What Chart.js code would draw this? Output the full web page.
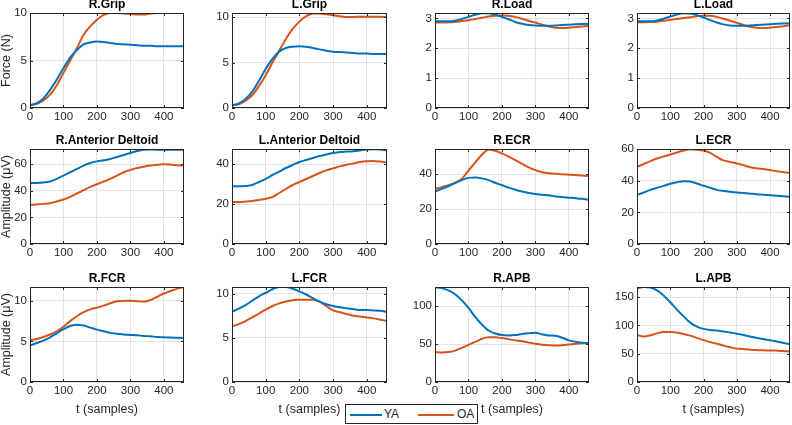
<!DOCTYPE html>
<html>
<head>
<meta charset="utf-8">
<script src="https://cdn.jsdelivr.net/npm/chart.js@4.4.0/dist/chart.umd.min.js"></script>
<style>
  body { margin: 0; background: #fff; width: 792px; height: 425px; overflow: hidden; position: relative; font-family: "Liberation Sans", Arial, sans-serif; }
  canvas { position: absolute; }
  #legend { position: absolute; left: 345px; top: 404px; width: 133px; height: 20px; border: 1px solid #262626; box-sizing: border-box; background: #fff; font-size: 12px; color: #262626; }
  #legend span { position: absolute; top: 2px; }
  #legend i { position: absolute; top: 9px; height: 2px; display: block; }
</style>
</head>
<body>
<div id="legend">
  <i style="left:4px;width:32px;background:#0072BD"></i><span style="left:38px">YA</span>
  <i style="left:72px;width:36px;background:#D95319"></i><span style="left:111px">OA</span>
</div>
<script>
// time axis (samples)
const t = [0,20,40,60,80,100,120,140,160,180,200,220,240,260,280,300,320,340,360,380,400,420,440,460];

const rGripYA = [0.3,0.5,1.0,1.9,3.0,4.2,5.3,6.1,6.7,6.9,7.0,6.95,6.85,6.75,6.7,6.65,6.6,6.55,6.55,6.5,6.5,6.5,6.5,6.5];
const rGripOA = [0.3,0.45,0.8,1.4,2.4,3.7,5.0,6.3,7.7,8.6,9.3,9.8,10.0,10.0,9.95,9.9,9.85,9.85,9.95,10.0,10.0,10.0,10.0,10.0];
const lGripYA = [0.3,0.5,1.0,1.8,3.0,4.3,5.4,6.2,6.6,6.75,6.8,6.75,6.6,6.45,6.3,6.2,6.15,6.1,6.05,6.0,6.0,5.95,5.95,5.95];
const lGripOA = [0.3,0.4,0.8,1.4,2.4,3.6,5.0,6.3,7.6,8.7,9.5,10.1,10.4,10.4,10.3,10.2,10.1,10.0,10.0,10.05,10.05,10.05,10.05,10.0];
const rLoadYA = [2.9,2.9,2.9,2.92,2.98,3.05,3.12,3.17,3.17,3.12,3.05,2.97,2.88,2.82,2.78,2.76,2.75,2.75,2.76,2.78,2.79,2.8,2.81,2.82];
const rLoadOA = [2.86,2.86,2.87,2.88,2.91,2.94,2.98,3.02,3.06,3.09,3.1,3.09,3.05,2.99,2.92,2.86,2.79,2.73,2.69,2.68,2.69,2.71,2.73,2.75];
const lLoadYA = [2.9,2.9,2.9,2.93,2.99,3.06,3.13,3.17,3.16,3.11,3.03,2.94,2.86,2.8,2.76,2.75,2.75,2.76,2.78,2.79,2.8,2.82,2.83,2.84];
const lLoadOA = [2.87,2.87,2.88,2.89,2.92,2.95,2.98,3.01,3.04,3.07,3.09,3.09,3.05,2.99,2.92,2.85,2.78,2.72,2.69,2.68,2.69,2.71,2.74,2.77];
const rDeltYA = [46,46,46.2,47,49,51.5,54,56.5,59,61,62.2,63,64,65.5,67,68.5,70,71,71.2,71,71,71,71,71];
const rDeltOA = [29.5,29.8,30.2,30.7,32,33.5,35.5,38,40.5,43,45,47,49,51.5,54,55.8,57.2,58.2,59,59.7,60,59.8,59.3,59];
const lDeltYA = [28.8,28.9,29,29.5,31,32.6,34.5,36.2,38,39.5,41,42,43,44,44.8,45.5,46,46.2,46.4,46.8,47.2,47.4,47.2,46.8];
const lDeltOA = [21,21,21.2,21.5,22,22.6,23.5,25.5,27.5,29.5,31,32.5,34,35.5,36.8,37.8,38.8,39.6,40.3,41,41.4,41.5,41.2,40.8];
const rEcrYA = [30,31.5,33,34.8,36.5,37.8,38,37.5,36.5,35,33.6,32.2,31,30,29.2,28.6,28.2,27.8,27.2,26.8,26.5,26.2,25.8,25.2];
const rEcrOA = [31.5,32.5,33.6,35,37.2,42,46.5,51,53.8,53.3,51.8,50,48,45.8,43.8,42.2,41,40.4,40.2,39.8,39.6,39.4,39.2,38.8];
const lEcrYA = [31,32.5,34.2,35.5,36.7,38,39,39.7,39.5,38.2,36.8,35.5,34.2,33.5,33,32.6,32.2,31.8,31.4,31.1,30.8,30.5,30.2,29.9];
const lEcrOA = [48.7,50.5,52.3,54,55.3,56.5,57.8,59,59.8,59.6,59,57.5,55,52.8,51.8,50.8,49.7,48.5,47.8,47.3,46.7,46,45.4,44.8];
const rFcrYA = [4.5,4.8,5.1,5.5,6.0,6.5,6.9,7.05,6.95,6.7,6.45,6.25,6.05,5.95,5.85,5.8,5.75,5.68,5.62,5.55,5.5,5.48,5.45,5.42];
const rFcrOA = [5.15,5.3,5.55,5.85,6.25,6.8,7.5,8.1,8.6,8.95,9.15,9.4,9.7,9.95,10,10,9.95,9.9,10.1,10.5,10.9,11.2,11.5,11.7];
const lFcrYA = [7.95,8.3,8.7,9.2,9.7,10.1,10.5,10.75,10.75,10.55,10.25,9.9,9.5,9.1,8.8,8.6,8.45,8.35,8.25,8.15,8.15,8.1,8.05,7.95];
const lFcrOA = [6.3,6.55,6.9,7.3,7.75,8.2,8.6,8.9,9.1,9.25,9.3,9.32,9.3,9.1,8.6,8.1,7.9,7.7,7.5,7.4,7.3,7.2,7.05,6.9];
const rApbYA = [125,124,121,116,108,98,86,76,68,64,62,61.5,62,63.5,64.5,65,63,61.5,61,58.5,55,53,52,51.5];
const rApbOA = [39.5,39,39.5,41.5,45,49,53,57,59,59,58,56.5,55,53.8,52,50.5,49.3,48.5,48.2,48.5,49.5,50.5,51.2,51.5];
const lApbYA = [166,168,167,162,153,141,128,116,105,98,94,92,91,89.5,87.5,85.5,83,80.5,78,76,74,71.5,69,67];
const lApbOA = [83,80.5,82.5,86,88.5,88.5,87.5,85,82,78,74,70.5,67.5,64.5,61.5,59,58.5,57,56.5,56,55.8,55.5,55,54];

const panels = [
  ['R.Grip', rGripYA, rGripOA, 10, 5, 'Force (N)'],
  ['L.Grip', lGripYA, lGripOA, 10.45, 5],
  ['R.Load', rLoadYA, rLoadOA, 3.18, 1],
  ['L.Load', lLoadYA, lLoadOA, 3.18, 1],
  ['R.Anterior Deltoid', rDeltYA, rDeltOA, 71.5, 20, 'Amplitude (\u03bcV)'],
  ['L.Anterior Deltoid', lDeltYA, lDeltOA, 47.5, 20],
  ['R.ECR', rEcrYA, rEcrOA, 54.3, 20],
  ['L.ECR', lEcrYA, lEcrOA, 60, 20],
  ['R.FCR', rFcrYA, rFcrOA, 11.7, 5, 'Amplitude (\u03bcV)'],
  ['L.FCR', lFcrYA, lFcrOA, 10.75, 5],
  ['R.APB', rApbYA, rApbOA, 125.5, 50],
  ['L.APB', lApbYA, lApbOA, 168, 50]
];

const colLeft = [30, 232, 435, 637];
const colW = [154, 155, 154, 153];
const rowTop = [14, 150, 288];
const plotH = 94;
const font = "'Liberation Sans', Arial, sans-serif";
const ink = '#262626';

const boxPlugin = {
  id: 'box',
  afterDatasetsDraw(chart) {
    const { ctx, chartArea: a, scales } = chart;
    ctx.save();
    ctx.strokeStyle = ink;
    ctx.lineWidth = 1;
    ctx.strokeRect(Math.round(a.left) + 0.5, Math.round(a.top) + 0.5, Math.round(a.right - a.left) - 1, Math.round(a.bottom - a.top) - 1);
    ctx.beginPath();
    scales.x.ticks.forEach(tk => {
      const px = Math.round(scales.x.getPixelForValue(tk.value)) + 0.5;
      ctx.moveTo(px, a.bottom); ctx.lineTo(px, a.bottom - 3);
      ctx.moveTo(px, a.top); ctx.lineTo(px, a.top + 3);
    });
    scales.y.ticks.forEach(tk => {
      const py = Math.round(scales.y.getPixelForValue(tk.value)) + 0.5;
      ctx.moveTo(a.left, py); ctx.lineTo(a.left + 3, py);
      ctx.moveTo(a.right, py); ctx.lineTo(a.right - 3, py);
    });
    ctx.stroke();
    ctx.restore();
  }
};

function keepSteps(step) {
  return scale => {
    scale.ticks = scale.ticks.filter(tk => Math.abs(tk.value / step - Math.round(tk.value / step)) < 1e-6);
  };
}

panels.forEach((p, i) => {
  const [name, ya, oa, ymax, ystep, ytitle] = p;
  const row = Math.floor(i / 4), col = i % 4;
  const yW = 30, titleH = 16, padR = 4;
  const xH = row === 2 ? 40 : 20;
  const cv = document.createElement('canvas');
  const w = yW + colW[col] + padR, h = titleH + plotH + xH;
  cv.width = w; cv.height = h;
  cv.style.width = w + 'px'; cv.style.height = h + 'px';
  cv.style.left = (colLeft[col] - yW) + 'px';
  cv.style.top = (rowTop[row] - titleH) + 'px';
  document.body.appendChild(cv);

  new Chart(cv.getContext('2d'), {
    type: 'line',
    data: {
      datasets: [
        { label: 'YA', data: t.map((x, k) => ({ x: x, y: ya[k] })), borderColor: '#0072BD', borderWidth: 2, pointRadius: 0, cubicInterpolationMode: 'monotone', fill: false },
        { label: 'OA', data: t.map((x, k) => ({ x: x, y: oa[k] })), borderColor: '#D95319', borderWidth: 2, pointRadius: 0, cubicInterpolationMode: 'monotone', fill: false }
      ]
    },
    options: {
      responsive: false,
      animation: false,
      layout: { padding: { left: 0, right: padR, top: 0, bottom: 0 } },
      plugins: {
        legend: { display: false },
        tooltip: { enabled: false },
        title: {
          display: true, text: name, fullSize: false, color: '#000',
          font: { family: font, size: 12, weight: 'bold', lineHeight: '14px' },
          padding: { top: 0, bottom: 1 }
        }
      },
      scales: {
        x: {
          type: 'linear', min: 0, max: 460,
          ticks: { stepSize: 100, includeBounds: false, autoSkip: false, color: ink, padding: 2, maxRotation: 0, font: { family: font, size: 11.5 } },
          afterBuildTicks: keepSteps(100),
          afterFit: s => { s.height = xH; },
          grid: { color: '#e3e3e3', drawTicks: false },
          border: { display: false },
          title: { display: row === 2, text: 't (samples)', color: ink, font: { family: font, size: 12.5, lineHeight: '14px' }, padding: { top: 6, bottom: 5 } }
        },
        y: {
          min: 0, max: ymax,
          ticks: { stepSize: ystep, includeBounds: false, autoSkip: false, color: ink, padding: 3, font: { family: font, size: 11.5 } },
          afterBuildTicks: keepSteps(ystep),
          afterFit: s => { s.width = yW; },
          grid: { color: '#e3e3e3', drawTicks: false },
          border: { display: false },
          title: { display: !!ytitle, text: ytitle || '', color: ink, font: { family: font, size: 12.5, lineHeight: '14px' }, padding: { top: 0, bottom: 0 } }
        }
      }
    },
    plugins: [boxPlugin]
  });
});
</script>
</body>
</html>
